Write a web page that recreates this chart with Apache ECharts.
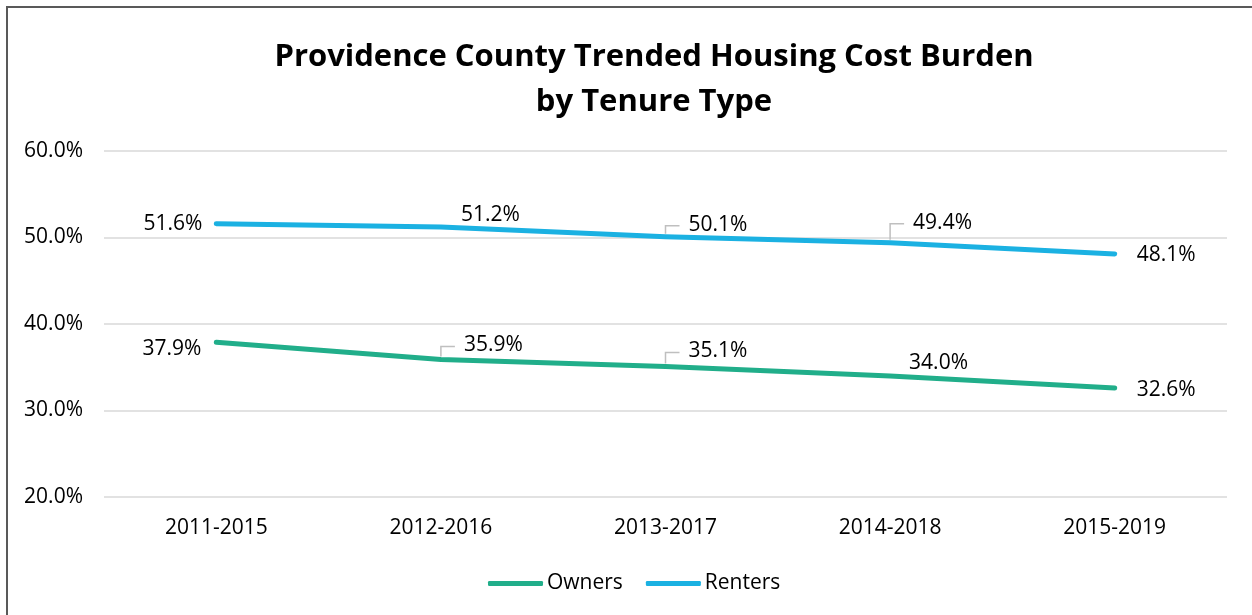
<!DOCTYPE html>
<html>
<head>
<meta charset="utf-8">
<script src="https://cdn.jsdelivr.net/npm/echarts@6/dist/echarts.min.js"></script>
<style>
  html, body { margin: 0; padding: 0; background: #fff; }
  #chart { width: 1252px; height: 615px; }
  #frame { position: absolute; left: 6px; top: 6px; width: 1252px; height: 615px;
           border-left: 2px solid #595959; border-top: 2px solid #595959; pointer-events: none; }
</style>
</head>
<body>
<div id="chart"></div>
<div id="frame"></div>
<script>
// ---- data ----
const categories = ['2011-2015', '2012-2016', '2013-2017', '2014-2018', '2015-2019'];
const owners = [37.9, 35.9, 35.1, 34.0, 32.6];
const renters = [51.6, 51.2, 50.1, 49.4, 48.1];
const yTicks = [20, 30, 40, 50, 60];

// ---- label placement (style) : side, dx, dy, leader ----
const ownersLabelPos = [
  { side: 'left',  dx: 14, dy: 7,   leader: false },
  { side: 'right', dx: 22, dy: -14, leader: true },
  { side: 'right', dx: 22, dy: -15, leader: true },
  { side: 'right', dx: 18, dy: -13, leader: false },
  { side: 'right', dx: 21, dy: 2,   leader: false }
];
const rentersLabelPos = [
  { side: 'left',  dx: 13, dy: 0,   leader: false },
  { side: 'right', dx: 19, dy: -12, leader: false },
  { side: 'right', dx: 22, dy: -12, leader: true },
  { side: 'right', dx: 22, dy: -20, leader: true },
  { side: 'right', dx: 21, dy: 1,   leader: false }
];

const FONT = 'Open Sans';
const ownersColor = '#21AE8A';
const rentersColor = '#1BB1E2';

function buildData(vals, pos) {
  return vals.map((v, i) => {
    const p = pos[i];
    return {
      value: v,
      label: {
        show: true,
        position: p.side,
        distance: 0,
        offset: [p.side === 'left' ? -p.dx : p.dx, p.dy]
      }
    };
  });
}
function leaderData(vals, pos) {
  const out = [];
  vals.forEach((v, i) => { if (pos[i].leader) out.push([i, v, pos[i].dx, pos[i].dy]); });
  return out;
}

const chart = echarts.init(document.getElementById('chart'), null, { renderer: 'canvas' });

const lineSeries = (name, vals, pos, color) => ({
  name: name,
  type: 'line',
  data: buildData(vals, pos),
  symbol: 'circle',
  symbolSize: 2,
  showSymbol: true,
  itemStyle: { color: color },
  lineStyle: { color: color, width: 5, cap: 'round', join: 'round' },
  label: {
    show: true,
    formatter: p => p.value.toFixed(1) + '%',
    fontFamily: FONT, fontSize: 21, color: '#000'
  },
  emphasis: { disabled: true },
  z: 3
});

const leaderSeries = (vals, pos) => ({
  type: 'custom',
  data: leaderData(vals, pos),
  silent: true,
  z: 2,
  renderItem: (params, api) => {
    const p = api.coord([api.value(0), api.value(1)]);
    const dx = api.value(2), dy = api.value(3);
    return {
      type: 'polyline',
      shape: { points: [[p[0], p[1] - 3], [p[0], p[1] + dy + 1], [p[0] + dx - 8, p[1] + dy + 1]] },
      style: { stroke: '#BFBFBF', lineWidth: 1.5, fill: null }
    };
  }
});

chart.setOption({
  animation: false,
  backgroundColor: '#fff',
  title: {
    text: 'Providence County Trended Housing Cost Burden\nby Tenure Type',
    left: 649,
    top: 30,
    textAlign: 'center',
    textStyle: { fontFamily: FONT, fontWeight: 'bold', fontSize: 31, lineHeight: 45, color: '#000' }
  },
  legend: {
    data: [
      { name: 'Owners', icon: 'roundRect' },
      { name: 'Renters', icon: 'roundRect' }
    ],
    left: 483,
    top: 568,
    itemWidth: 55,
    itemHeight: 5,
    itemGap: 23,
    textStyle: { fontFamily: FONT, fontSize: 21, color: '#000', padding: [0, 0, 0, -1] },
    selectedMode: false
  },
  grid: { left: 104, right: 25, top: 151, bottom: 118, containLabel: false },
  xAxis: {
    type: 'category',
    data: categories,
    boundaryGap: true,
    axisLine: { show: false },
    axisTick: { show: false },
    axisLabel: { fontFamily: FONT, fontSize: 21, color: '#000', margin: 21 }
  },
  yAxis: {
    type: 'value',
    min: yTicks[0],
    max: yTicks[yTicks.length - 1],
    interval: yTicks[1] - yTicks[0],
    axisLine: { show: false },
    axisTick: { show: false },
    splitLine: { lineStyle: { color: '#D9D9D9', width: 1.5 } },
    axisLabel: { fontFamily: FONT, fontSize: 21, color: '#000', margin: 21,
                 formatter: v => v.toFixed(1) + '%' }
  },
  series: [
    lineSeries('Owners', owners, ownersLabelPos, ownersColor),
    lineSeries('Renters', renters, rentersLabelPos, rentersColor),
    leaderSeries(owners, ownersLabelPos),
    leaderSeries(renters, rentersLabelPos)
  ]
});
</script>
</body>
</html>
